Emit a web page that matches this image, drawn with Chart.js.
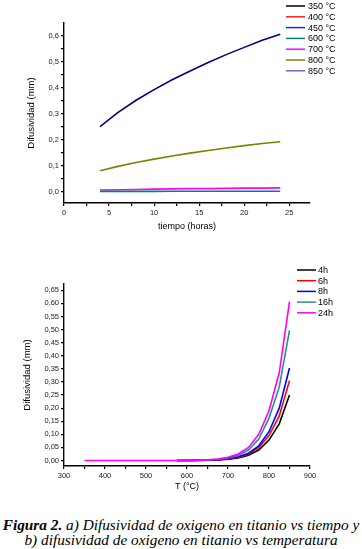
<!DOCTYPE html>
<html>
<head>
<meta charset="utf-8">
<script src="https://cdn.jsdelivr.net/npm/chart.js@4.4.0/dist/chart.umd.min.js"></script>
<style>
  body { margin: 0; width: 362px; height: 549px; background: #fff; position: relative; overflow: hidden; }
  #c1 { position: absolute; left: 0; top: 0; }
  #c2 { position: absolute; left: 0; top: 250px; }
  .caption {
    position: absolute; left: 0; top: 517px; width: 362px; text-align: center;
    font-family: "Liberation Serif", serif; font-style: italic; font-size: 15.3px; line-height: 15px; color: #000;
    white-space: nowrap;
  }
</style>
</head>
<body>
<canvas id="c1" width="362" height="240"></canvas>
<canvas id="c2" width="362" height="250"></canvas>
<div class="caption"><b>Figura 2.</b> a) Difusividad de oxigeno en titanio vs tiempo y<br>b) difusividad de oxigeno en titanio vs temperatura</div>
<script>
// a) difusividad vs tiempo
const hours = [4, 6, 8, 10, 12, 14, 16, 18, 20, 22, 24];
const tempLabels = ["350 °C", "400 °C", "450 °C", "600 °C", "700 °C", "800 °C", "850 °C"];
const d350 = [0, 0, 0, 0, 0, 0, 0, 0, 0, 0, 0];
const d400 = [0, 0, 0, 0, 0, 0, 0, 0, 0, 0, 0];
const d450 = [0, 0, 0, 0, 0, 0, 0, 0, 0, 0, 0];
const d600 = [0.0004, 0.0005, 0.0006, 0.0006, 0.0007, 0.0007, 0.0008, 0.0008, 0.0009, 0.0009, 0.001];
const d700 = [0.006, 0.007, 0.008, 0.009, 0.010, 0.011, 0.011, 0.012, 0.013, 0.013, 0.014];
const d800 = [0.08, 0.097, 0.112, 0.125, 0.137, 0.148, 0.158, 0.168, 0.177, 0.185, 0.192];
const d850 = [0.25, 0.305, 0.352, 0.393, 0.431, 0.465, 0.498, 0.528, 0.556, 0.583, 0.607];

// b) difusividad vs temperatura
const temps = [350, 375, 400, 425, 450, 475, 500, 525, 550, 575, 600, 625, 650, 675, 700, 725, 750, 775, 800, 825, 850];
const hourLabels = ["4h", "6h", "8h", "16h", "24h"];
const h4 =  [0, 0, 0, 0, 0, 0, 0, 0, 0, 0, 0.0002, 0.0005, 0.001, 0.0025, 0.005, 0.01, 0.02, 0.04, 0.078, 0.14, 0.25];
const h6 =  [0, 0, 0, 0, 0, 0, 0, 0, 0, 0, 0.0002, 0.0006, 0.0012, 0.003, 0.006, 0.012, 0.025, 0.049, 0.095, 0.17, 0.305];
const h8 =  [0, 0, 0, 0, 0, 0, 0, 0, 0, 0, 0.0003, 0.0007, 0.0014, 0.0035, 0.007, 0.014, 0.028, 0.056, 0.11, 0.2, 0.353];
const h16 = [0, 0, 0, 0, 0, 0, 0, 0, 0, 0, 0.0004, 0.001, 0.002, 0.005, 0.01, 0.02, 0.04, 0.082, 0.162, 0.28, 0.497];
const h24 = [0, 0, 0, 0, 0, 0, 0, 0, 0, 0, 0.0005, 0.0012, 0.0025, 0.006, 0.012, 0.025, 0.05, 0.1, 0.19, 0.335, 0.607];

// ticks (minor ticks get an empty label)
const topXTicks = [0, 2.5, 5, 7.5, 10, 12.5, 15, 17.5, 20, 22.5, 25];
const topXLabels = ["0", "", "5", "", "10", "", "15", "", "20", "", "25"];
const topYTicks = [0, 0.05, 0.1, 0.15, 0.2, 0.25, 0.3, 0.35, 0.4, 0.45, 0.5, 0.55, 0.6];
const topYLabels = ["0,0", "", "0,1", "", "0,2", "", "0,3", "", "0,4", "", "0,5", "", "0,6"];
const botXTicks = [300, 350, 400, 450, 500, 550, 600, 650, 700, 750, 800, 850, 900];
const botXLabels = ["300", "", "400", "", "500", "", "600", "", "700", "", "800", "", "900"];
const botYTicks = [0, 0.05, 0.1, 0.15, 0.2, 0.25, 0.3, 0.35, 0.4, 0.45, 0.5, 0.55, 0.6, 0.65];
const botYLabels = ["0,00", "0,05", "0,10", "0,15", "0,20", "0,25", "0,30", "0,35", "0,40", "0,45", "0,50", "0,55", "0,60", "0,65"];

const FONT = "'Liberation Sans', Arial, sans-serif";

// legend drawn at a fixed spot, like the origin plot
const fixedLegend = {
  id: "fixedLegend",
  afterDraw(chart, args, o) {
    const ctx = chart.ctx;
    ctx.save();
    ctx.font = o.size + "px " + FONT;
    ctx.textBaseline = "middle";
    chart.data.datasets.forEach((ds, i) => {
      const y = o.y + i * o.step;
      ctx.strokeStyle = ds.legendColor || ds.borderColor;
      ctx.lineWidth = o.lw;
      ctx.beginPath();
      ctx.moveTo(o.x1, y);
      ctx.lineTo(o.x2, y);
      ctx.stroke();
      ctx.fillStyle = "#000";
      ctx.fillText(ds.label, o.tx, y + 0.5);
    });
    ctx.restore();
  }
};

// lines hidden under the top one where they all sit on zero
const hideOnZero = {
  borderColor: (c) => (c.p0.parsed.y === 0 && c.p1.parsed.y === 0 ? "rgba(0,0,0,0)" : undefined)
};

function makeAxis(min, max, ticks, labels, title, size, isY) {
  return {
    type: "linear",
    min: min,
    max: max,
    afterBuildTicks: (s) => { s.ticks = ticks.map((v) => ({ value: v })); },
    afterFit: (s) => { if (isY) s.width = size; else s.height = size; },
    grid: { drawOnChartArea: false, drawTicks: true, tickLength: 3, color: "#000", tickColor: "#000", lineWidth: 1.2 },
    border: { display: true, color: "#000", width: 1.4 },
    ticks: {
      autoSkip: false, maxRotation: 0, padding: 2, color: "#222",
      font: { family: FONT, size: 7.5 },
      callback: (v, i) => labels[i]
    },
    title: {
      display: true, text: title, color: "#000",
      font: { family: FONT, size: isY ? 9.5 : 9 },
      padding: isY ? { top: isY.pad, bottom: 0 } : { top: 0, bottom: 8.5 }
    }
  };
}

function series(xs, ys) {
  return xs.map((x, i) => ({ x: x, y: ys[i] }));
}

// ---- chart a (lower order = drawn on top)
const topColors = ["#000000", "#ff2020", "#2020ff", "#008080", "#ff00ff", "#808000", "#000080"];
const topData = [d350, d400, d450, d600, d700, d800, d850];
const topOrder = [3, 2, 1, 0, 0, 0, 0];

new Chart(document.getElementById("c1"), {
  type: "line",
  data: {
    datasets: topData.map((d, i) => ({
      label: tempLabels[i],
      data: series(hours, d),
      borderColor: topColors[i],
      legendColor: i === 6 ? "#6a6ac0" : topColors[i],
      borderWidth: 1.6,
      pointRadius: 0,
      tension: 0,
      order: topOrder[i],
      segment: i < 3 ? hideOnZero : undefined
    }))
  },
  options: {
    responsive: false,
    animation: false,
    layout: { padding: { left: 0, top: 23, right: 52, bottom: 0 } },
    plugins: {
      legend: { display: false },
      tooltip: { enabled: false },
      fixedLegend: { x1: 286, x2: 305, tx: 308, y: 6, step: 10.8, size: 9, lw: 1.5 }
    },
    scales: {
      x: makeAxis(0, 27.3, topXTicks, topXLabels, "tiempo (horas)", 37, null),
      y: makeAxis(-0.04436, 0.65, topYTicks, topYLabels, "Difusividad (mm)", 64, { pad: 26 })
    }
  },
  plugins: [fixedLegend]
});

// ---- chart b
const botColors = ["#000000", "#ff0000", "#0000ff", "#2a8f8f", "#ff00ff"];
const botData = [h4, h6, h8, h16, h24];

new Chart(document.getElementById("c2"), {
  type: "line",
  data: {
    datasets: botData.map((d, i) => ({
      label: hourLabels[i],
      data: series(temps, d),
      borderColor: botColors[i],
      borderWidth: 1.6,
      pointRadius: 0,
      tension: 0,
      order: 5 - i,
      segment: i < 4 ? hideOnZero : undefined
    }))
  },
  options: {
    responsive: false,
    animation: false,
    layout: { padding: { left: 0, top: 34, right: 52, bottom: 0 } },
    plugins: {
      legend: { display: false },
      tooltip: { enabled: false },
      fixedLegend: { x1: 297, x2: 316, tx: 318, y: 20, step: 10.7, size: 9, lw: 1.5 }
    },
    scales: {
      x: makeAxis(300, 900, botXTicks, botXLabels, "T (°C)", 34, null),
      y: makeAxis(-0.021, 0.674, botYTicks, botYLabels, "Difusividad (mm)", 64, { pad: 22 })
    }
  },
  plugins: [fixedLegend]
});
</script>
</body>
</html>
